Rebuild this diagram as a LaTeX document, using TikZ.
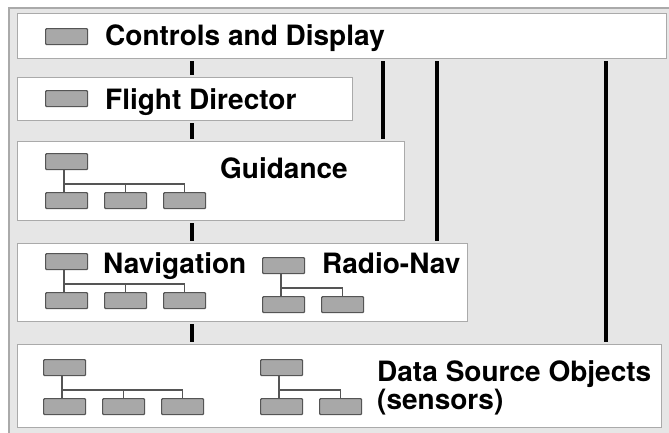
\documentclass[tikz,border=0pt]{standalone}
\usepackage{fontspec}
\setmainfont{TeX Gyre Heros}
\usepackage{tikz}
\usetikzlibrary{positioning}
\tikzstyle{diagram} = [x = 1pt, y = -1pt]
\definecolor{panelGrey}{RGB}{230,230,230}
\definecolor{edgeGrey}{RGB}{170,170,170}
\definecolor{objectFill}{RGB}{168,168,168}
\definecolor{objectEdge}{RGB}{85,85,85}
\tikzstyle{layerStyle} = [draw=edgeGrey, fill=white, line width=1pt, anchor=north west, inner sep=0pt]
\tikzstyle{objectStyle} = [draw=objectEdge, fill=objectFill, line width=1.2pt, anchor=north west, inner sep=0pt, minimum width=42pt, minimum height=16pt, rounded corners=1pt]
\tikzstyle{treeLine} = [draw=objectEdge, line width=1.2pt]
\tikzstyle{busLine} = [line width=4pt, shorten <=2pt, shorten >=2pt]
\tikzstyle{layerText} = [font=\fontsize{28}{28}\selectfont\bfseries, anchor=base west, inner sep=0pt]
\newcommand{\softwareLayer}[5]{\node [layerStyle, minimum width=#4pt, minimum height=#5pt] (#1) at (#2,#3) {};}
\newcommand{\objectTree}[4]{
  \node [objectStyle] (#1-top) at (#2,#3) {};
  \coordinate (#1-bar) at (#2 + 19, #3 + 31);
  \foreach \child in {1,...,#4} {
    \node [objectStyle] (#1-\child) at (#2 + \child * 59 - 59, #3 + 39) {};
  }
  \draw [treeLine] (#1-top.south -| #1-bar) -- (#1-1.north -| #1-bar);
  \foreach \child in {2,...,#4} {
    \draw [treeLine] (#1-bar) -| (#1-\child.north);
  }
}
\begin{document}
\begin{tikzpicture}[diagram]
\useasboundingbox (0,0) rectangle (669,432);
\fill [white] (0,0) rectangle (669,432);
\filldraw [fill=panelGrey, draw=edgeGrey, line width=1.5pt] (9,8) rectangle (680,445);
\softwareLayer{controls}{17}{13}{649}{45}
\softwareLayer{flight}{17}{77}{335}{43}
\softwareLayer{guidance}{17}{141}{387}{79}
\softwareLayer{navigation}{17}{243}{450}{78}
\softwareLayer{sources}{17}{344}{644}{83}
\node [objectStyle] (controlsObject) at (45,28) {};
\node [objectStyle] (flightObject) at (45,90) {};
\objectTree{guidanceTree}{45}{153}{3}
\objectTree{navTree}{45}{253}{3}
\objectTree{radioTree}{262}{257}{2}
\objectTree{sourceTreeA}{43}{359}{3}
\objectTree{sourceTreeB}{260}{359}{2}
\node [layerText] (controlsText) at (105,45) {Controls and Display};
\node [layerText] (flightText) at (105,109) {Flight Director};
\node [layerText] (guidanceText) at (220,178) {Guidance};
\node [layerText] (navText) at (103,273) {Navigation};
\node [layerText] (radioText) at (322,273) {Radio-Nav};
\node [layerText, anchor=north west, align=left] (sourcesText) at (377,360) {Data Source Objects\\(sensors)};
% buses between the layers
\coordinate (busA) at (192,0);
\coordinate (busB) at (383,0);
\coordinate (busC) at (437,0);
\coordinate (busD) at (606,0);
\draw [busLine] (controls.south -| busA) -- (flight.north -| busA);
\draw [busLine] (flight.south -| busA) -- (guidance.north -| busA);
\draw [busLine] (guidance.south -| busA) -- (navigation.north -| busA);
\draw [busLine] (navigation.south -| busA) -- (sources.north -| busA);
\draw [busLine] (controls.south -| busB) -- (guidance.north -| busB);
\draw [busLine] (controls.south -| busC) -- (navigation.north -| busC);
\draw [busLine] (controls.south -| busD) -- (sources.north -| busD);
\end{tikzpicture}
\end{document}
